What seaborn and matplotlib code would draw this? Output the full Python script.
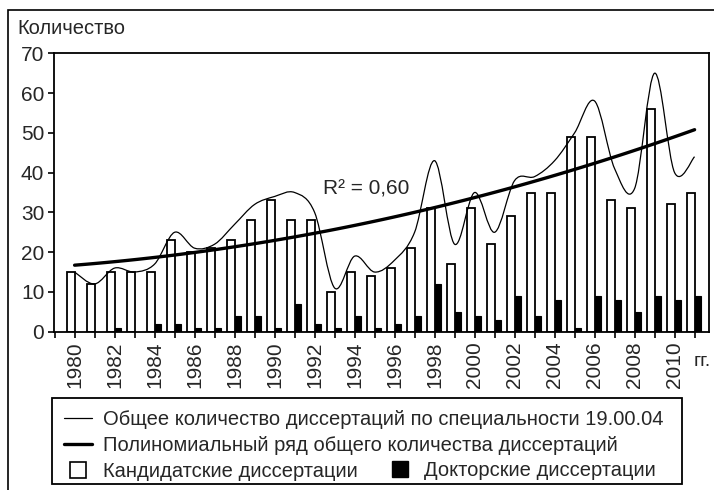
import numpy as np
import matplotlib
matplotlib.use("Agg")
import matplotlib.pyplot as plt
from matplotlib.path import Path
from matplotlib.patches import PathPatch, Rectangle
from matplotlib.lines import Line2D
import seaborn as sns

# === DATA ===
years = np.arange(1980, 2012)
candidate = [15, 12, 15, 15, 15, 23, 20, 21, 23, 28, 33, 28, 28, 10, 15, 14,
             16, 21, 31, 17, 31, 22, 29, 35, 35, 49, 49, 33, 31, 56, 32, 35]
doctor = [0, 0, 1, 0, 2, 2, 1, 1, 4, 4, 1, 7, 2, 1, 4, 1,
          2, 4, 12, 5, 4, 3, 9, 4, 8, 1, 9, 8, 5, 9, 8, 9]
total = np.array(candidate) + np.array(doctor)
year_labels = [str(y) for y in range(1980, 2011, 2)]

label_total = "Общее количество диссертаций по специальности 19.00.04"
label_trend = "Полиномиальный ряд общего количества диссертаций"
label_cand = "Кандидатские диссертации"
label_doc = "Докторские диссертации"
r2_text = "R² = 0,60"

# === STYLE ===
sns.set_theme(style="ticks")
plt.rcParams["font.family"] = ["Liberation Sans", "DejaVu Sans"]
plt.rcParams["axes.linewidth"] = 1.3

W, H = 714, 490
fig = plt.figure(figsize=(W / 100, H / 100), dpi=100)
ax = fig.add_axes([54 / W, 1 - 331.7 / H, 655 / W, (331.7 - 53.3) / H])

# bars: white (candidate) left of the year tick, black (doctor) right of it
sns.barplot(x=years - 0.2, y=candidate, native_scale=True, width=0.4,
            color="white", saturation=1, edgecolor="black", linewidth=1.3,
            ax=ax, zorder=2)
sns.barplot(x=years + 0.15, y=doctor, native_scale=True, width=0.3,
            color="black", saturation=1, edgecolor="black", linewidth=0.8,
            ax=ax, zorder=2)

# smoothed total line (Excel-like Bezier smoothing through the points)
pts = np.column_stack([years, total]).astype(float)
n = len(pts)
verts = [pts[0]]
codes = [Path.MOVETO]
for i in range(n - 1):
    p0 = pts[i - 1] if i > 0 else pts[i]
    p1, p2 = pts[i], pts[i + 1]
    p3 = pts[i + 2] if i + 2 < n else pts[i + 1]
    verts += [p1 + (p2 - p0) / 6, p2 - (p3 - p1) / 6, p2]
    codes += [Path.CURVE4] * 3
ax.add_patch(PathPatch(Path(verts, codes), fill=False, edgecolor="black",
                       lw=0.9, zorder=3))

# polynomial (order 2) trend of the total
sns.regplot(x=years, y=total, order=2, scatter=False, ci=None, color="black",
            line_kws={"lw": 2.4, "zorder": 4}, ax=ax)

ax.text(1994.6, 36, r2_text, ha="center", va="center", fontsize=15)

# axes
ax.set_xlim(1978.97, 2011.72)
ax.set_ylim(0, 70)
ax.set_yticks(range(0, 71, 10))
ax.set_xticks(range(1980, 2011, 2))
ax.set_xticklabels(year_labels, rotation=90)
ax.set_xticks(range(1979, 2012, 2), minor=True)
ax.tick_params(axis="both", which="both", direction="out", length=4,
               width=1.2, color="black", labelsize=15, pad=3)
ax.set_xlabel("")
ax.set_ylabel("")
for s in ax.spines.values():
    s.set_visible(True)
    s.set_color("black")

fig.text(17 / W, 1 - 28 / H, "Количество", fontsize=14.5, va="center", ha="left")
fig.text(694 / W, 1 - 362 / H, "гг.", fontsize=14, va="center", ha="left")

# legend
h_total = Line2D([], [], color="black", lw=0.9)
h_trend = Line2D([], [], color="black", lw=2.4)
h_cand = Line2D([], [], ls="none", marker="s", markersize=12,
                markerfacecolor="white", markeredgecolor="black",
                markeredgewidth=1.2)
h_doc = Line2D([], [], ls="none", marker="s", markersize=12,
               markerfacecolor="black", markeredgecolor="black")
leg1 = fig.legend([h_total, h_trend, h_cand], [label_total, label_trend, label_cand],
                  loc="upper left", bbox_to_anchor=(64 / W, 1 - 410 / H),
                  frameon=False, borderpad=0, borderaxespad=0, fontsize=14.5,
                  handlelength=1.4, handletextpad=0.55, labelspacing=0.34)
leg2 = fig.legend([h_doc], [label_doc],
                  loc="upper left", bbox_to_anchor=(388 / W, 1 - 461 / H),
                  frameon=False, borderpad=0, borderaxespad=0, fontsize=14.5,
                  handlelength=1.15, handletextpad=0.65)
fig.add_artist(Rectangle((52 / W, 1 - 484 / H), 630 / W, 86 / H,
                         transform=fig.transFigure, fill=False,
                         edgecolor="black", lw=1.3))
# outer frame (only left and top edges visible)
fig.add_artist(Rectangle((7.5 / W, -0.2), 1.2, 1.2 - 10 / H,
                         transform=fig.transFigure, fill=False,
                         edgecolor="black", lw=1.2))

fig.savefig("out.png", dpi=100)
